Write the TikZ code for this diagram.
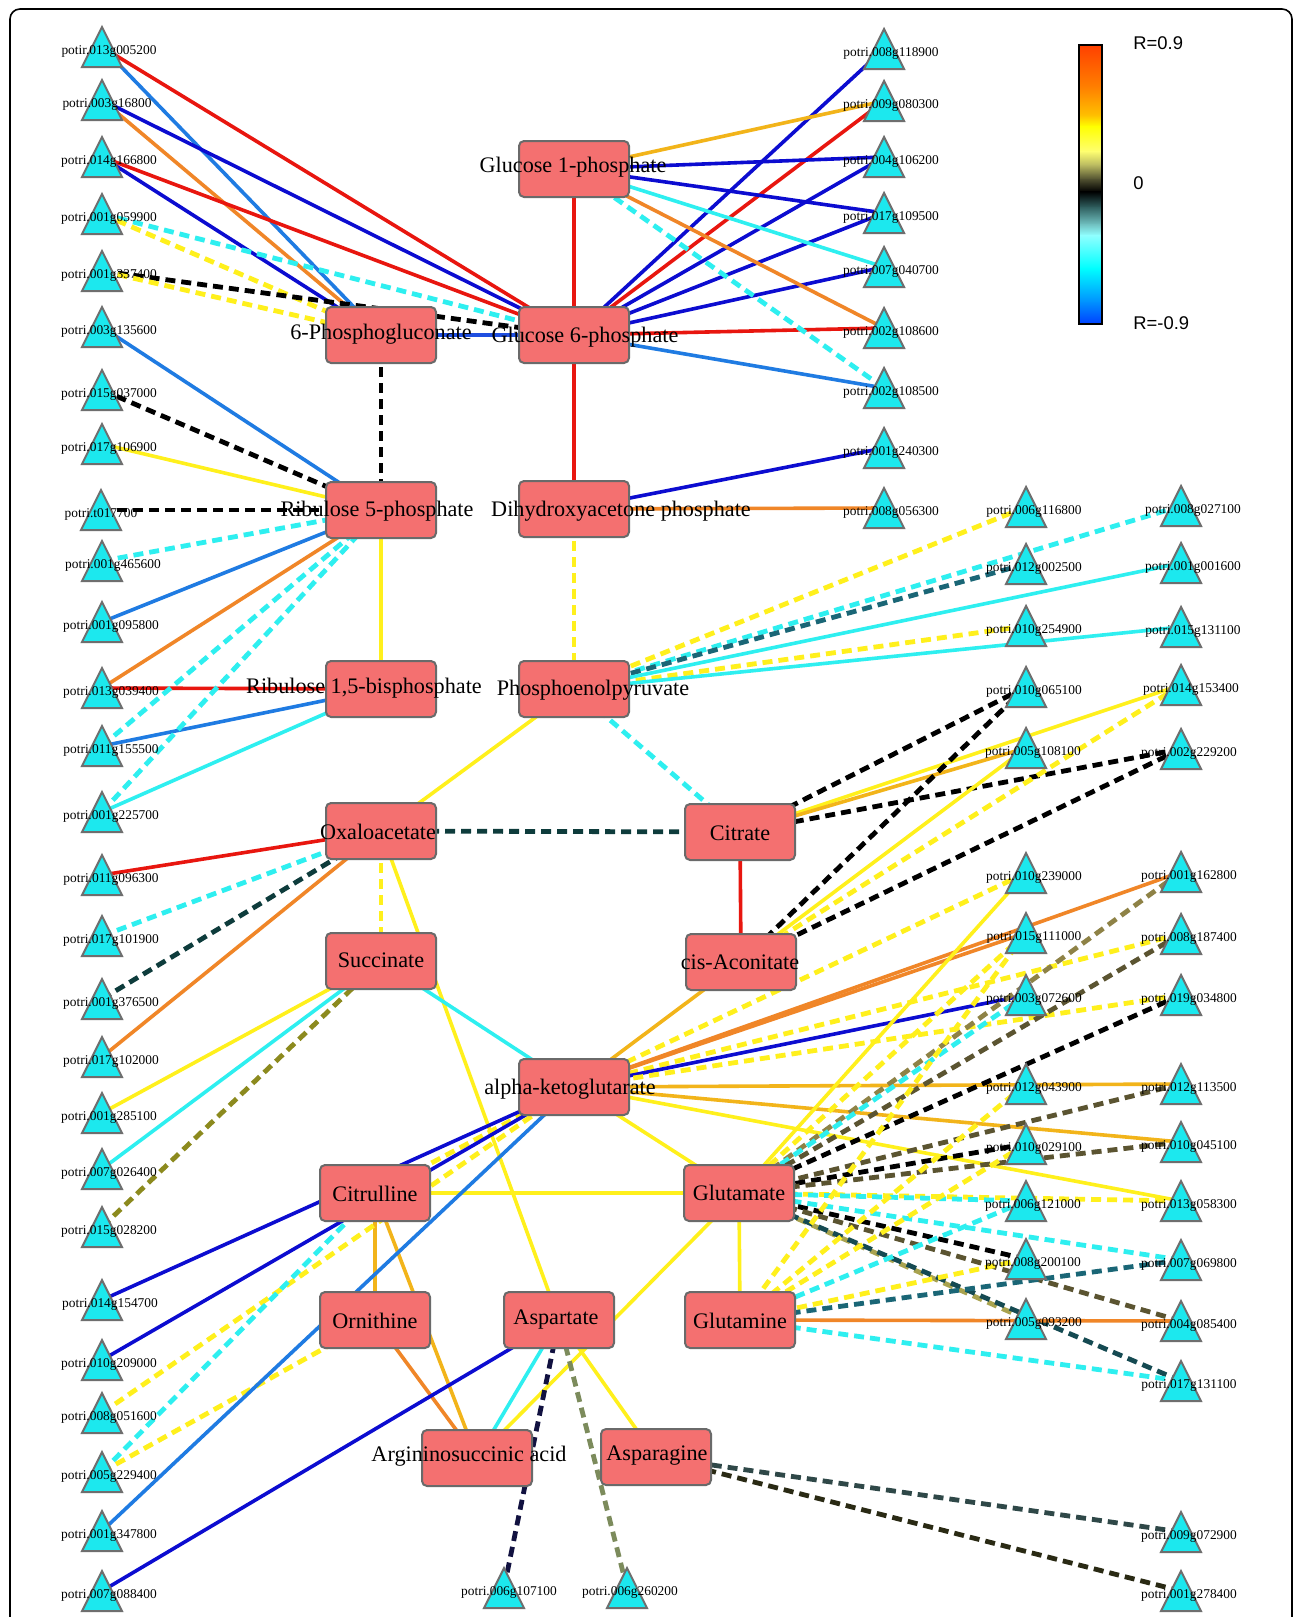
\documentclass[tikz,border=0pt]{standalone}
\usepackage{fontspec}
\setmainfont{Liberation Serif}
\newfontfamily\legfont{Liberation Sans}
\usetikzlibrary{backgrounds,calc}
\definecolor{cred}{HTML}{E8160F}
\definecolor{cblue}{HTML}{0C0CD0}
\definecolor{cbluetwo}{HTML}{1F4FE0}
\definecolor{cazure}{HTML}{1F7BE2}
\definecolor{ccyan}{HTML}{2EEFF0}
\definecolor{corange}{HTML}{F08628}
\definecolor{cgold}{HTML}{F2B41A}
\definecolor{cyellow}{HTML}{FFF01C}
\definecolor{cdteal}{HTML}{0E3C3C}
\definecolor{cteal}{HTML}{1A6676}
\definecolor{colive}{HTML}{8C8A1E}
\definecolor{ckhaki}{HTML}{8E8246}
\definecolor{cdolive}{HTML}{5B5431}
\definecolor{ckhakitwo}{HTML}{A9A34F}
\definecolor{cdtealtwo}{HTML}{154A52}
\definecolor{cnavy}{HTML}{111140}
\definecolor{csage}{HTML}{7C8B5C}
\definecolor{cslate}{HTML}{2F4848}
\definecolor{cdark}{HTML}{2A2A14}
\definecolor{metfill}{HTML}{F47070}
\definecolor{metborder}{HTML}{6A6A6A}
\definecolor{trifill}{HTML}{1CE8EE}
\definecolor{triborder}{HTML}{6E6E6E}
\newcommand\mkgene[5]{%
  \coordinate (#1) at (#2,#3);
  \filldraw[tri] ([shift={(-20,20)}]#1) -- ([shift={(0,-20)}]#1) -- ([shift={(20,20)}]#1) -- cycle;
  \node[gtxt] (#1t) at ([shift={(#5,4)}]#1) {#4};}
\newcommand\mkmet[6]{%
  \node[met] (#1) at (#2,#3) {};
  \node[mtxt] (#1t) at (#4,#5) {#6};}
\begin{document}
\begin{tikzpicture}[x=0.5pt,y=-0.5pt,
  met/.style={draw=metborder, fill=metfill, line width=1pt, rounded corners=2.5pt, minimum width=55pt, minimum height=28pt, inner sep=0pt},
  mtxt/.style={font=\fontsize{11.1}{13}\selectfont, inner sep=0pt},
  gtxt/.style={font=\fontsize{6.7}{8}\selectfont, inner sep=0pt},
  legtxt/.style={font=\legfont\fontsize{9.2}{11}\selectfont, inner sep=0pt, anchor=west},
  tri/.style={fill=trifill, draw=triborder, line width=1pt, line join=miter},
  solidln/.style={line width=1.8pt},
  dashln/.style={line width=2.4pt, dash pattern=on 5pt off 3pt},
  sred/.style={solidln, draw=cred},
  sblue/.style={solidln, draw=cblue},
  sbluetwo/.style={solidln, draw=cbluetwo},
  sazure/.style={solidln, draw=cazure},
  scyan/.style={solidln, draw=ccyan},
  sorange/.style={solidln, draw=corange},
  sgold/.style={solidln, draw=cgold},
  syellow/.style={solidln, draw=cyellow},
  dcyan/.style={dashln, draw=ccyan},
  dyellow/.style={dashln, draw=cyellow},
  dblack/.style={dashln, draw=black},
  ddteal/.style={dashln, draw=cdteal},
  dteal/.style={dashln, draw=cteal},
  dolive/.style={dashln, draw=colive},
  dkhaki/.style={dashln, draw=ckhaki},
  ddolive/.style={dashln, draw=cdolive},
  dkhakitwo/.style={dashln, draw=ckhakitwo},
  ddtealtwo/.style={dashln, draw=cdtealtwo},
  dnavy/.style={dashln, draw=cnavy},
  dsage/.style={dashln, draw=csage},
  dslate/.style={dashln, draw=cslate},
  ddark/.style={dashln, draw=cdark}
]
\useasboundingbox (0,0) rectangle (1295,1617);
\draw[line width=0.8pt, rounded corners=5pt] (10,1617) -- (10,9) -- (1292,9) -- (1292,1617);

% metabolites
\mkmet{G1P}{574}{169}{573}{167}{Glucose 1-phosphate}
\mkmet{G6P}{574}{335}{585}{337}{Glucose 6-phosphate}
\mkmet{PG}{381}{335}{381}{334}{6-Phosphogluconate}
\mkmet{R5P}{381}{510}{377}{511}{Ribulose 5-phosphate}
\mkmet{RBP}{381}{689}{364}{688}{Ribulose 1,5-bisphosphate}
\mkmet{DHAP}{574}{509}{621}{511}{Dihydroxyacetone phosphate}
\mkmet{PEP}{574}{689}{593}{690}{Phosphoenolpyruvate}
\mkmet{OAA}{381}{831}{378}{832}{Oxaloacetate}
\mkmet{CIT}{740}{832}{740}{833}{Citrate}
\mkmet{SUC}{381}{961}{381}{960}{Succinate}
\mkmet{CISA}{741}{962}{740}{962}{cis-Aconitate}
\mkmet{AKG}{574}{1087}{570}{1089}{alpha-ketoglutarate}
\mkmet{CITR}{375}{1193}{375}{1194}{Citrulline}
\mkmet{ORN}{375}{1320}{375}{1321}{Ornithine}
\mkmet{GLU}{739}{1193}{739}{1193}{Glutamate}
\mkmet{GLN}{740}{1320}{740}{1321}{Glutamine}
\mkmet{ASP}{559}{1320}{556}{1320}{Aspartate}
\mkmet{ARG}{477}{1458}{469}{1456}{Argininosuccinic acid}
\mkmet{ASN}{656}{1457}{657}{1456}{Asparagine}

% left genes
\mkgene{L1}{102}{47}{potir.013g005200}{7}
\mkgene{L2}{102}{100}{potri.003g16800}{5}
\mkgene{L3}{102}{157}{potri.014g166800}{7}
\mkgene{L4}{102}{214}{potri.001g059900}{7}
\mkgene{L5}{102}{271}{potri.001g337400}{7}
\mkgene{L6}{102}{327}{potri.003g135600}{7}
\mkgene{L7}{102}{390}{potri.015g037000}{7}
\mkgene{L8}{102}{444}{potri.017g106900}{7}
\mkgene{L9}{101}{510}{potri.t017700}{0}
\mkgene{L10}{102}{561}{potri.001g465600}{11}
\mkgene{L11}{102}{622}{potri.001g095800}{9}
\mkgene{L12}{102}{688}{potri.013g039400}{9}
\mkgene{L13}{102}{746}{potri.011g155500}{9}
\mkgene{L14}{102}{812}{potri.001g225700}{9}
\mkgene{L15}{102}{875}{potri.011g096300}{9}
\mkgene{L16}{102}{936}{potri.017g101900}{9}
\mkgene{L17}{102}{999}{potri.001g376500}{9}
\mkgene{L18}{102}{1057}{potri.017g102000}{9}
\mkgene{L19}{102}{1113}{potri.001g285100}{7}
\mkgene{L20}{102}{1169}{potri.007g026400}{7}
\mkgene{L21}{102}{1227}{potri.015g028200}{7}
\mkgene{L22}{102}{1300}{potri.014g154700}{8}
\mkgene{L23}{102}{1360}{potri.010g209000}{7}
\mkgene{L24}{102}{1413}{potri.008g051600}{7}
\mkgene{L25}{102}{1472}{potri.005g229400}{7}
\mkgene{L26}{102}{1531}{potri.001g347800}{7}
\mkgene{L27}{102}{1591}{potri.007g088400}{7}
% right column 1
\mkgene{R1}{884}{49}{potri.008g118900}{7}
\mkgene{R2}{884}{101}{potri.009g080300}{7}
\mkgene{R3}{884}{157}{potri.004g106200}{7}
\mkgene{R4}{884}{213}{potri.017g109500}{7}
\mkgene{R5}{884}{267}{potri.007g040700}{7}
\mkgene{R6}{884}{328}{potri.002g108600}{7}
\mkgene{R7}{884}{388}{potri.002g108500}{7}
\mkgene{R8}{884}{448}{potri.001g240300}{7}
\mkgene{R9}{884}{508}{potri.008g056300}{7}
% column 2
\mkgene{M1}{1026}{507}{potri.006g116800}{8}
\mkgene{M2}{1026}{564}{potri.012g002500}{8}
\mkgene{M3}{1026}{626}{potri.010g254900}{8}
\mkgene{M4}{1026}{687}{potri.010g065100}{8}
\mkgene{M5}{1026}{748}{potri.005g108100}{7}
\mkgene{M6}{1026}{873}{potri.010g239000}{8}
\mkgene{M7}{1026}{933}{potri.015g111000}{8}
\mkgene{M8}{1026}{995}{potri.003g072600}{8}
\mkgene{M9}{1026}{1084}{potri.012g043900}{8}
\mkgene{M10}{1026}{1144}{potri.010g029100}{8}
\mkgene{M11}{1026}{1201}{potri.006g121000}{7}
\mkgene{M12}{1026}{1259}{potri.008g200100}{7}
\mkgene{M13}{1026}{1319}{potri.005g093200}{8}
% column 3
\mkgene{F1}{1181}{506}{potri.008g027100}{12}
\mkgene{F2}{1181}{563}{potri.001g001600}{12}
\mkgene{F3}{1181}{627}{potri.015g131100}{12}
\mkgene{F4}{1181}{685}{potri.014g153400}{10}
\mkgene{F5}{1181}{749}{potri.002g229200}{8}
\mkgene{F6}{1181}{872}{potri.001g162800}{8}
\mkgene{F7}{1181}{934}{potri.008g187400}{8}
\mkgene{F8}{1181}{995}{potri.019g034800}{8}
\mkgene{F9}{1181}{1084}{potri.012g113500}{8}
\mkgene{F10}{1181}{1142}{potri.010g045100}{8}
\mkgene{F11}{1181}{1201}{potri.013g058300}{8}
\mkgene{F12}{1181}{1260}{potri.007g069800}{8}
\mkgene{F13}{1181}{1321}{potri.004g085400}{8}
\mkgene{F14}{1181}{1381}{potri.017g131100}{8}
\mkgene{F15}{1181}{1532}{potri.009g072900}{8}
\mkgene{F16}{1181}{1591}{potri.001g278400}{8}
% bottom
\mkgene{B1}{504}{1588}{potri.006g107100}{5}
\mkgene{B2}{627}{1588}{potri.006g260200}{3}

% legend
\shade[top color={rgb,255:red,255;green,64;blue,0}, bottom color={rgb,255:red,255;green,128;blue,0}] (1079,45) rectangle (1102,87.5);
\shade[top color={rgb,255:red,255;green,128;blue,0}, bottom color={rgb,255:red,255;green,192;blue,0}] (1079,87) rectangle (1102,115.5);
\shade[top color={rgb,255:red,255;green,192;blue,0}, bottom color={rgb,255:red,255;green,255;blue,0}] (1079,115) rectangle (1102,126.5);
\shade[top color={rgb,255:red,255;green,255;blue,0}, bottom color={rgb,255:red,255;green,255;blue,112}] (1079,126) rectangle (1102,151.5);
\shade[top color={rgb,255:red,255;green,255;blue,112}, bottom color={rgb,255:red,184;green,184;blue,96}] (1079,151) rectangle (1102,165.5);
\shade[top color={rgb,255:red,184;green,184;blue,96}, bottom color={rgb,255:red,80;green,80;blue,48}] (1079,165) rectangle (1102,179.5);
\shade[top color={rgb,255:red,80;green,80;blue,48}, bottom color=black] (1079,179) rectangle (1102,192);
\shade[top color=black, bottom color={rgb,255:red,48;green,96;blue,96}] (1079,191.5) rectangle (1102,207.5);
\shade[top color={rgb,255:red,48;green,96;blue,96}, bottom color={rgb,255:red,112;green,192;blue,192}] (1079,207) rectangle (1102,224.5);
\shade[top color={rgb,255:red,112;green,192;blue,192}, bottom color={rgb,255:red,144;green,255;blue,255}] (1079,224) rectangle (1102,235.5);
\shade[top color={rgb,255:red,144;green,255;blue,255}, bottom color={rgb,255:red,0;green,255;blue,255}] (1079,235) rectangle (1102,268.5);
\shade[top color={rgb,255:red,0;green,255;blue,255}, bottom color={rgb,255:red,0;green,144;blue,255}] (1079,268) rectangle (1102,302.5);
\shade[top color={rgb,255:red,0;green,144;blue,255}, bottom color={rgb,255:red,0;green,64;blue,255}] (1079,302) rectangle (1102,324);
\draw[line width=0.8pt] (1079,45) rectangle (1102,324);
\node[legtxt] (legtop) at (1133,43) {R=0.9};
\node[legtxt] (legmid) at (1133,183) {0};
\node[legtxt] (legbot) at (1133,323) {R=-0.9};

\begin{pgfonlayer}{background}
\fill[white] (0,0) rectangle (1295,1617);
% metabolite-metabolite
\draw[sred] (G1P.center) -- (G6P.center);
\draw[sred] (G6P.center) -- (DHAP.center);
\draw[sbluetwo] (PG.center) -- (G6P.center);
\draw[dblack] (PG.center) -- (R5P.center);
\draw[syellow] (R5P.center) -- (RBP.center);
\draw[dyellow] (DHAP.center) -- (PEP.center);
\draw[syellow] (PEP.center) -- (OAA.center);
\draw[dcyan] (PEP.center) -- (CIT.center);
\draw[ddteal] (OAA.center) -- (CIT.center);
\draw[dyellow] (OAA.center) -- (SUC.center);
\draw[syellow] (OAA.center) -- (ASP.center);
\draw[sred] (CIT.center) -- (CISA.center);
\draw[scyan] (SUC.center) -- (AKG.center);
\draw[sgold] (CISA.center) -- (AKG.center);
\draw[syellow] (AKG.center) -- (GLU.center);
\draw[dyellow] (CITR.center) -- (AKG.center);
\draw[syellow] (CITR.center) -- (GLU.center);
\draw[syellow] (GLU.center) -- (GLN.center);
\draw[sgold] (CITR.center) -- (ORN.center);
\draw[sgold] (CITR.center) -- (ARG.center);
\draw[sorange] (ORN.center) -- (ARG.center);
\draw[scyan] (ASP.center) -- (ARG.center);
\draw[syellow] (ARG.center) -- (GLU.center);
\draw[syellow] (ASP.center) -- (ASN.center);
% left genes
\draw[sred] (L1) -- (G6P.center);
\draw[sazure] (L1) -- (PG.center);
\draw[sblue] (L2) -- (G6P.center);
\draw[sorange] (L2) -- (PG.center);
\draw[sred] (L3) -- (G6P.center);
\draw[sblue] (L3) -- (PG.center);
\draw[dcyan] (L4) -- (G6P.center);
\draw[dyellow] (L4) -- (PG.center);
\draw[dblack] (L5) -- (G6P.center);
\draw[dyellow] (L5) -- (PG.center);
\draw[sazure] (L6) -- (R5P.center);
\draw[dblack] (L7) -- (R5P.center);
\draw[syellow] (L8) -- (R5P.center);
\draw[dblack] (L9) -- (R5P.center);
\draw[dcyan] (L10) -- (R5P.center);
\draw[sazure] (L11) -- (R5P.center);
\draw[sorange] (L12) -- (R5P.center);
\draw[sred] (L12) -- (RBP.center);
\draw[dcyan] (L13) -- (R5P.center);
\draw[sazure] (L13) -- (RBP.center);
\draw[dcyan] (L14) -- (R5P.center);
\draw[scyan] (L14) -- (RBP.center);
\draw[sred] (L15) -- (OAA.center);
\draw[dcyan] (L16) -- (OAA.center);
\draw[ddteal] (L17) -- (OAA.center);
\draw[sorange] (L18) -- (OAA.center);
\draw[syellow] (L19) -- (SUC.center);
\draw[scyan] (L20) -- (SUC.center);
\draw[dolive] (L21) -- (SUC.center);
\draw[sblue] (L22) -- (AKG.center);
\draw[sblue] (L23) -- (AKG.center);
\draw[dyellow] (L24) -- (AKG.center);
\draw[dcyan] (L25) -- (CITR.center);
\draw[dyellow] (L25) -- (ORN.center);
\draw[sazure] (L26) -- (AKG.center);
\draw[sblue] (L27) -- (ASP.center);
\draw[dnavy] (B1) -- (ASP.center);
\draw[dsage] (B2) -- (ASP.center);
% right column 1
\draw[sblue] (R1) -- (G6P.center);
\draw[sgold] (R2) -- (G1P.center);
\draw[sred] (R2) -- (G6P.center);
\draw[sblue] (R3) -- (G1P.center);
\draw[sblue] (R3) -- (G6P.center);
\draw[sblue] (R4) -- (G1P.center);
\draw[sblue] (R4) -- (G6P.center);
\draw[scyan] (R5) -- (G1P.center);
\draw[sblue] (R5) -- (G6P.center);
\draw[sorange] (R6) -- (G1P.center);
\draw[sred] (R6) -- (G6P.center);
\draw[dcyan] (R7) -- (G1P.center);
\draw[sazure] (R7) -- (G6P.center);
\draw[sblue] (R8) -- (DHAP.center);
\draw[sorange] (R9) -- (DHAP.center);
% PEP
\draw[dyellow] (M1) -- (PEP.center);
\draw[dcyan] (F1) -- (PEP.center);
\draw[dteal] (M2) -- (PEP.center);
\draw[scyan] (F2) -- (PEP.center);
\draw[dyellow] (M3) -- (PEP.center);
\draw[scyan] (F3) -- (PEP.center);
% citrate and cis-aconitate
\draw[dblack] (M4) -- (CIT.center);
\draw[syellow] (F4) -- (CIT.center);
\draw[sgold] (M5) -- (CIT.center);
\draw[dblack] (F5) -- (CIT.center);
\draw[dblack] (M4) -- (CISA.center);
\draw[syellow] (M5) -- (CISA.center);
\draw[dyellow] (F4) -- (CISA.center);
\draw[dblack] (F5) -- (CISA.center);
% alpha-ketoglutarate
\draw[dyellow] (M6) -- (AKG.center);
\draw[sorange] (F6) -- (AKG.center);
\draw[sorange] (M7) -- (AKG.center);
\draw[dyellow] (F7) -- (AKG.center);
\draw[sblue] (M8) -- (AKG.center);
\draw[dyellow] (F8) -- (AKG.center);
\draw[sgold] (F9) -- (AKG.center);
\draw[sgold] (F10) -- (AKG.center);
\draw[syellow] (F11) -- (AKG.center);
% glutamate
\draw[syellow] (M6) -- (GLU.center);
\draw[dyellow] (M7) -- (GLU.center);
\draw[dkhaki] (F6) -- (GLU.center);
\draw[dcyan] (M8) -- (GLU.center);
\draw[ddolive] (F7) -- (GLU.center);
\draw[dblack] (F8) -- (GLU.center);
\draw[ddolive] (F9) -- (GLU.center);
\draw[dblack] (M10) -- (GLU.center);
\draw[ddolive] (F10) -- (GLU.center);
\draw[dyellow] (F11) -- (GLU.center);
\draw[dcyan] (M11) -- (GLU.center);
\draw[dcyan] (F12) -- (GLU.center);
\draw[dblack] (M12) -- (GLU.center);
\draw[ddolive] (F13) -- (GLU.center);
\draw[dkhakitwo] (M13) -- (GLU.center);
\draw[ddtealtwo] (F14) -- (GLU.center);
% glutamine
\draw[dyellow] (M7) -- (GLN.center);
\draw[dyellow] (M9) -- (GLN.center);
\draw[dyellow] (M10) -- (GLN.center);
\draw[dcyan] (M11) -- (GLN.center);
\draw[dyellow] (M12) -- (GLN.center);
\draw[dteal] (F12) -- (GLN.center);
\draw[sorange] (F13) -- (GLN.center);
\draw[dcyan] (F14) -- (GLN.center);
% asparagine
\draw[dslate] (F15) -- (ASN.center);
\draw[ddark] (F16) -- (ASN.center);
\end{pgfonlayer}
\end{tikzpicture}
\end{document}
